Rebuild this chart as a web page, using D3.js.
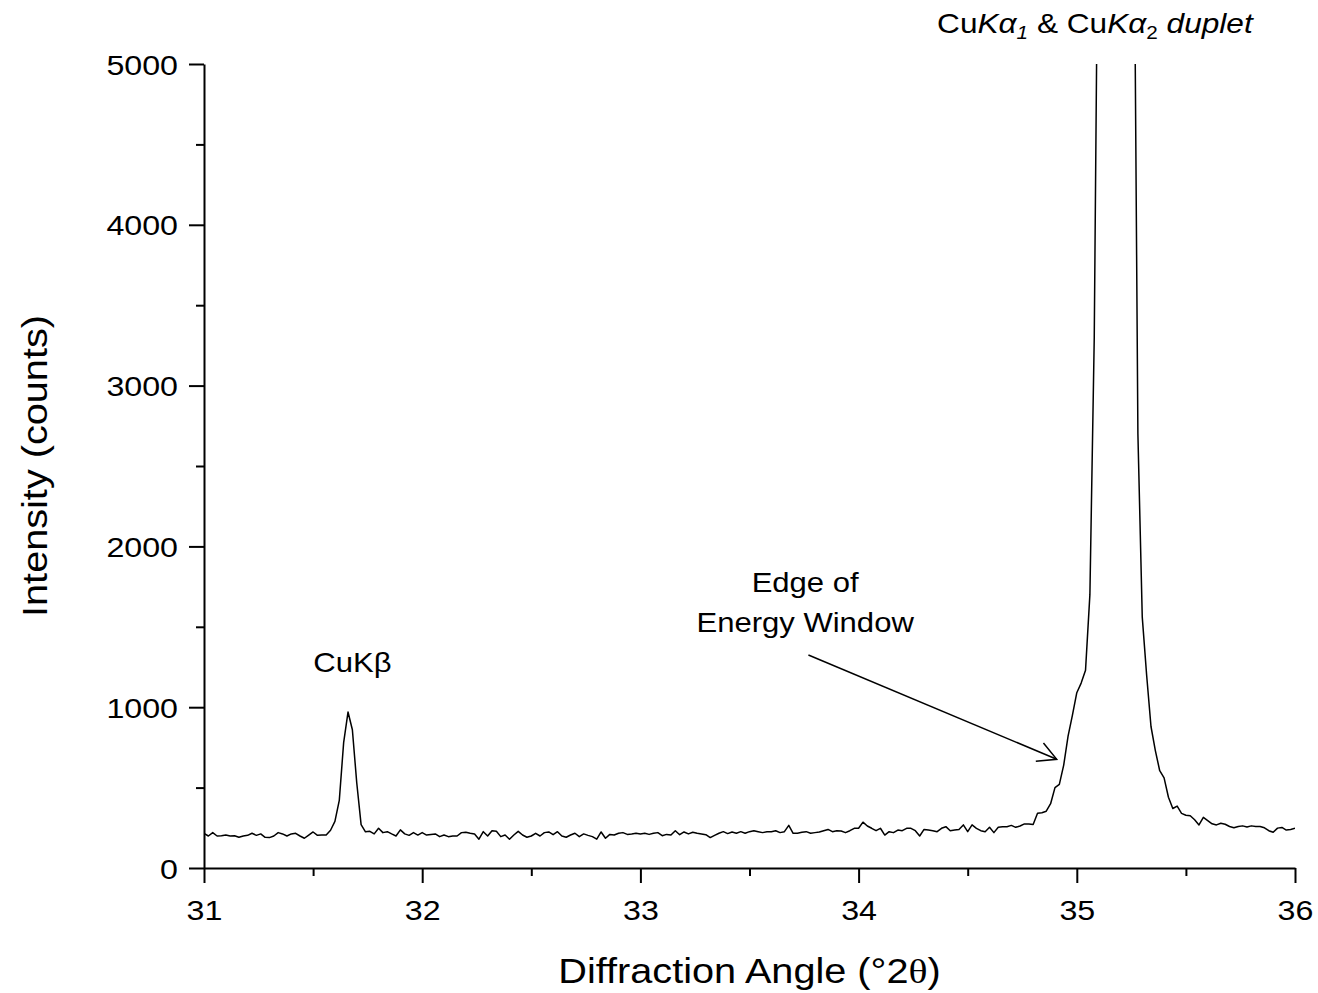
<!DOCTYPE html>
<html><head><meta charset="utf-8">
<script src="https://cdn.jsdelivr.net/npm/d3@7"></script>
<style>body{margin:0;background:#fff}svg{display:block}</style>
</head><body><svg id="chart" width="1318" height="993"></svg>
<script>
// ---- data ----
const scanStart = 31;      // °2θ of first sample
const scanStep = 0.02;     // °2θ between samples
const intensity = [
  216,199,220,199,201,205,199,201,191,199,203,216,203,212,191,189,199,220,212,199,212,216,199,185,205,224,203,205,205,
  235,290,420,780,970,860,530,270,225,
  228,212,247,220,226,212,199,237,212,203,220,205,
  220,205,209,212,195,205,195,199,199,220,222,216,212,179,226,199,232,228,195,205,
  179,205,228,205,191,199,216,199,220,224,207,226,199,191,205,216,195,212,203,195,
  179,224,185,209,205,216,220,209,
  212,216,212,216,209,216,220,201,209,205,232,207,224,212,222,216,212,207,189,203,
  216,226,214,224,216,226,216,226,232,226,220,226,226,232,220,226,265,216,216,222,
  226,216,220,224,232,240,226,232,
  230,220,232,247,247,285,261,247,232,247,205,226,220,236,232,247,247,232,199,240,
  236,232,226,247,257,232,236,240,268,226,268,247,232,226,253,220,253,257,257,265,
  253,261,274,274,270,340,344,353,
  400,500,520,640,820,951,1090,1150,1230,1700,
  3300,6500,12000,18000,16000,11000,9000,9500,8000,6500,
  2700,1560,1200,880,730,605,560,440,370,385,
  340,328,325,300,268,315,295,275,268,278,
  272,258,250,258,262,255,262,258,258,250,
  232,222,248,252,236,240,247
];
const xDomain = [31, 36];
const yDomain = [0, 5000];
const xTicks = [31, 32, 33, 34, 35, 36];
const xMinorTicks = [31.5, 32.5, 33.5, 34.5, 35.5];
const yTicks = [0, 1000, 2000, 3000, 4000, 5000];
const yMinorTicks = [500, 1500, 2500, 3500, 4500];
const xTitle = "Diffraction Angle (°2";
const xTitleSymbol = "θ";
const yTitle = "Intensity (counts)";
const kbetaLabel = {text: "CuKβ", angle: 31.68, counts: 1219};
const edgeLines = ["Edge of", "Energy Window"];
const edgeLabel = {angle: 33.755, counts: [1716, 1468]};
const arrowFrom = {angle: 33.77, counts: 1325};
const arrowTo = {angle: 34.908, counts: 676};
const dupletLabel = {angle: 35.083, counts: 5193};

// ---- drawing ----
const FONT = "'Liberation Sans', Arial, sans-serif";
const SX = 1.15;
const svg = d3.select("#chart");
const L = 204, R = 1295, T = 64, B = 868;
const x = d3.scaleLinear().domain(xDomain).range([L, R]);
const y = d3.scaleLinear().domain(yDomain).range([B, T]);

svg.append("rect").attr("width",1318).attr("height",993).attr("fill","#fff");

svg.append("clipPath").attr("id","plotclip")
  .append("rect").attr("x",L).attr("y",T).attr("width",R-L).attr("height",B-T+5);

const data = intensity.map((v,i)=>({a: scanStart + i*scanStep, c: v}));
svg.append("path").datum(data)
  .attr("clip-path","url(#plotclip)")
  .attr("fill","none").attr("stroke","#000").attr("stroke-width",1.5)
  .attr("stroke-linejoin","round")
  .attr("d", d3.line().x(d=>x(d.a)).y(d=>y(d.c)));

// axes
function styleAxis(g){
  g.select(".domain").attr("stroke","#000").attr("stroke-width",2);
  g.selectAll(".tick line").attr("stroke","#000").attr("stroke-width",2);
}
const gxMinor = svg.append("g").attr("transform",`translate(0,${B})`)
  .call(d3.axisBottom(x).tickValues(xMinorTicks).tickSize(8).tickSizeOuter(0).tickFormat(""));
gxMinor.select(".domain").remove();
styleAxis(gxMinor);
const gx = svg.append("g").attr("transform",`translate(0,${B})`)
  .call(d3.axisBottom(x).tickValues(xTicks).tickSize(15).tickSizeOuter(0).tickFormat(d3.format("d")));
styleAxis(gx);
gx.selectAll(".tick text").attr("y",0).attr("dy",0)
  .attr("transform",`translate(0,52) scale(${SX},1)`)
  .attr("font-size",28).attr("font-family",FONT).attr("fill","#000");

const gyMinor = svg.append("g").attr("transform",`translate(${L},0)`)
  .call(d3.axisLeft(y).tickValues(yMinorTicks).tickSize(8).tickSizeOuter(0).tickFormat(""));
gyMinor.select(".domain").remove();
styleAxis(gyMinor);
const gy = svg.append("g").attr("transform",`translate(${L},0)`)
  .call(d3.axisLeft(y).tickValues(yTicks).tickSize(15).tickSizeOuter(0).tickFormat(d3.format("d")));
styleAxis(gy);
gy.selectAll(".tick text").attr("x",0).attr("dy","0.36em")
  .attr("transform",`translate(-26,0) scale(${SX},1)`)
  .attr("font-size",28).attr("font-family",FONT).attr("fill","#000");

// titles
const xt = svg.append("text")
  .attr("transform",`translate(${(L+R)/2},983) scale(${SX},1)`)
  .attr("text-anchor","middle").attr("font-size",34.5).attr("font-family",FONT);
xt.append("tspan").text(xTitle);
xt.append("tspan").attr("font-family","'Liberation Serif', 'Times New Roman', serif").text(xTitleSymbol);
xt.append("tspan").text(")");

svg.append("text")
  .attr("transform",`translate(47,${(T+B)/2}) rotate(-90) scale(${SX},1)`)
  .attr("text-anchor","middle").attr("font-size",34.5).attr("font-family",FONT)
  .text(yTitle);

// annotations
function label(px, py, size){
  return svg.append("text")
    .attr("transform",`translate(${px},${py}) scale(${SX},1)`)
    .attr("text-anchor","middle").attr("font-size",size).attr("font-family",FONT).attr("fill","#000");
}
label(x(kbetaLabel.angle), y(kbetaLabel.counts), 27).text(kbetaLabel.text);
edgeLines.forEach((t,i)=> label(x(edgeLabel.angle), y(edgeLabel.counts[i]), 27).text(t));

const dl = label(x(dupletLabel.angle), y(dupletLabel.counts), 27.5);
dl.append("tspan").text("Cu");
dl.append("tspan").attr("font-style","italic").text("Kα");
dl.append("tspan").attr("font-style","italic").attr("font-size",18).attr("dy",6).text("1");
dl.append("tspan").attr("dy",-6).text(" & Cu");
dl.append("tspan").attr("font-style","italic").text("Kα");
dl.append("tspan").attr("font-size",18).attr("dy",6).text("2");
dl.append("tspan").attr("dy",-6).attr("font-style","italic").text(" duplet");

// arrow
const x0 = x(arrowFrom.angle), y0 = y(arrowFrom.counts);
const x1 = x(arrowTo.angle), y1 = y(arrowTo.counts);
svg.append("line").attr("x1",x0).attr("y1",y0).attr("x2",x1).attr("y2",y1)
  .attr("stroke","#000").attr("stroke-width",1.5);
const ang = Math.atan2(y1-y0, x1-x0);
const hl = 21, ha = 28*Math.PI/180;
const wing = s => [x1 - hl*Math.cos(ang + s*ha), y1 - hl*Math.sin(ang + s*ha)];
const w1 = wing(1), w2 = wing(-1);
svg.append("path")
  .attr("d",`M${w1[0]},${w1[1]}L${x1},${y1}L${w2[0]},${w2[1]}`)
  .attr("fill","none").attr("stroke","#000").attr("stroke-width",1.5);
</script></body></html>
